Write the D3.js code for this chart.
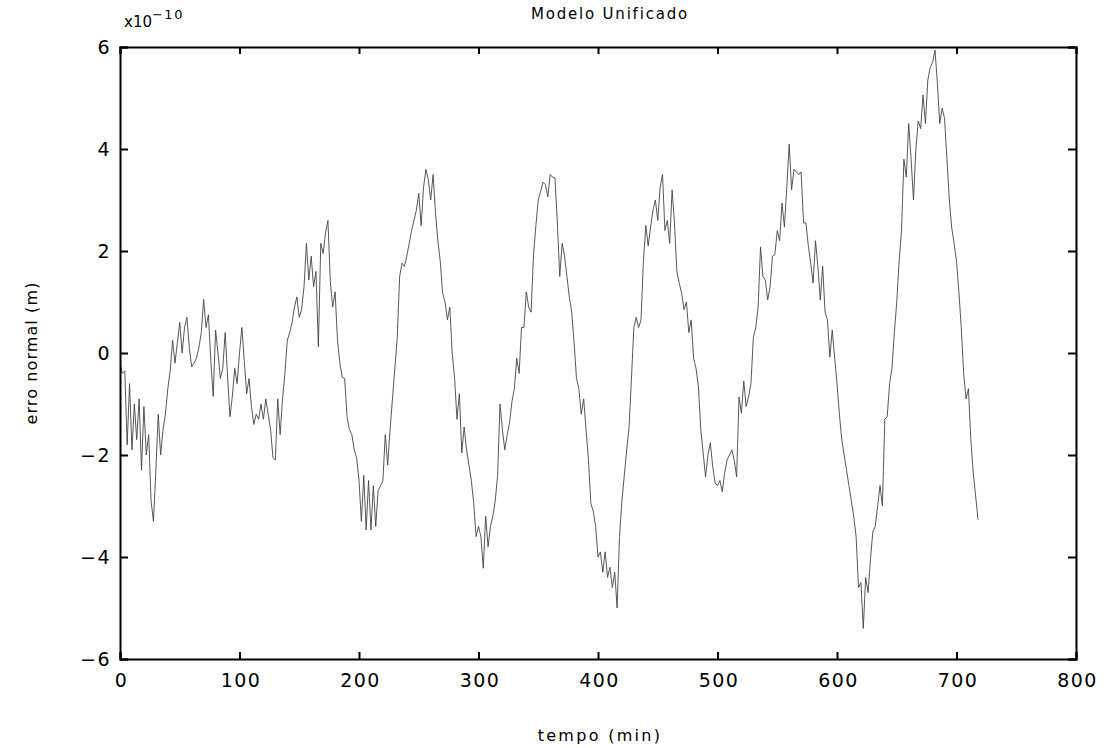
<!DOCTYPE html>
<html>
<head>
<meta charset="utf-8">
<script src="https://cdn.jsdelivr.net/npm/d3@7"></script>
<style>
  body { margin: 0; background: #fff; }
  svg { display: block; }
  text { font-family: "DejaVu Sans", sans-serif; fill: #000; }
</style>
</head>
<body>
<svg id="chart" width="1113" height="748"></svg>
<script>
// ---- data ----
const title = "Modelo Unificado";
const xLabel = "tempo (min)";
const yLabel = "erro normal (m)";
const xTicks = [0, 100, 200, 300, 400, 500, 600, 700, 800];
const yTicks = [-6, -4, -2, 0, 2, 4, 6];
const tStep = 2; // minutes between samples
// error values (x10^-10 m), one every 2 minutes from t = 0
const erro = [
  -0.2, -0.4, -0.35, -1.8, -0.6, -1.9, -1.0, -1.7, -0.9, -2.3,
  -1.05, -2.0, -1.6, -2.9, -3.3, -2.3, -1.2, -2.0, -1.5, -1.2,
  -0.7, -0.35, 0.25, -0.2, 0.2, 0.6, 0.0, 0.5, 0.7, 0.1,
  -0.27, -0.2, -0.1, 0.1, 0.4, 1.05, 0.5, 0.75, -0.15, -0.85,
  0.45, 0.0, -0.5, -0.3, 0.4, -0.45, -1.25, -0.85, -0.3, -0.6,
  0.0, 0.5, -0.15, -0.8, -0.5, -1.05, -1.4, -1.2, -1.3, -1.0,
  -1.3, -0.9, -1.2, -1.5, -2.05, -2.1, -0.9, -1.6, -0.9, -0.4,
  0.25, 0.4, 0.6, 0.9, 1.1, 0.7, 0.85, 1.3, 2.15, 1.43,
  1.9, 1.3, 1.6, 0.12, 2.15, 1.95, 2.35, 2.6, 1.4, 0.9,
  1.2, 0.25, -0.2, -0.47, -0.5, -1.25, -1.5, -1.6, -1.9, -2.05,
  -2.5, -3.3, -2.4, -3.47, -2.5, -3.47, -2.6, -3.4, -2.7, -2.6,
  -2.5, -1.6, -2.2, -1.5, -0.9, -0.3, 0.3, 1.5, 1.76, 1.7,
  1.9, 2.15, 2.4, 2.6, 2.8, 3.13, 2.5, 3.25, 3.6, 3.4,
  3.0, 3.5, 2.75, 2.2, 1.8, 1.17, 1.0, 0.65, 0.9, 0.0,
  -0.5, -1.3, -0.8, -1.96, -1.45, -1.9, -2.2, -2.5, -2.95, -3.6,
  -3.4, -3.6, -4.22, -3.2, -3.8, -3.4, -3.2, -2.9, -2.4, -1.0,
  -1.5, -1.9, -1.6, -1.37, -0.95, -0.7, -0.1, -0.4, 0.5, 0.5,
  1.2, 0.9, 0.8, 1.9, 2.5, 3.0, 3.17, 3.35, 3.3, 3.06,
  3.5, 3.45, 3.43, 2.55, 1.5, 2.15, 1.9, 1.5, 1.1, 0.8,
  0.2, -0.5, -0.7, -1.2, -0.9, -1.5, -2.1, -2.95, -3.1, -3.4,
  -4.0, -3.9, -4.3, -3.9, -4.4, -4.2, -4.6, -4.3, -5.0, -3.6,
  -2.9, -2.4, -1.9, -1.45, -0.5, 0.5, 0.7, 0.5, 0.65, 1.8,
  2.5, 2.1, 2.47, 2.8, 3.0, 2.6, 3.25, 3.5, 2.4, 2.6,
  2.15, 3.2, 2.55, 1.6, 1.37, 1.17, 0.85, 1.0, 0.4, 0.65,
  -0.1, -0.3, -0.65, -1.5, -1.96, -2.43, -2.0, -1.76, -2.23, -2.55,
  -2.6, -2.5, -2.72, -2.35, -2.1, -2.0, -1.9, -2.1, -2.43, -0.86,
  -1.18, -0.55, -1.05, -0.86, -0.6, 0.3, 0.5, 0.9, 2.08, 1.5,
  1.43, 1.04, 1.3, 1.9, 1.93, 2.4, 2.2, 2.94, 2.47, 3.25,
  4.1, 3.2, 3.6, 3.55, 3.5, 3.55, 2.55, 2.55, 2.1, 1.76,
  1.37, 2.2, 1.7, 1.04, 1.7, 0.8, 0.65, -0.08, 0.45, -0.08,
  -0.6, -1.2, -1.7, -2.0, -2.3, -2.6, -2.9, -3.2, -3.6, -4.6,
  -4.5, -5.4, -4.4, -4.7, -4.05, -3.5, -3.4, -3.0, -2.6, -3.0,
  -1.3, -1.25, -0.6, -0.3, 0.4, 1.0, 1.8, 2.4, 3.8, 3.45,
  4.5, 3.8, 3.0, 4.0, 4.55, 4.4, 5.06, 4.5, 5.35, 5.6,
  5.7, 5.94, 5.3, 4.5, 4.8, 4.6, 3.8, 3.0, 2.45, 2.15,
  1.8, 1.2, 0.5, -0.4, -0.9, -0.7, -1.7, -2.35, -2.8, -3.27
];
const tempo = erro.map((_, i) => i * tStep);

// ---- layout ----
const margin = { left: 120, right: 1113 - 1076, top: 47, bottom: 748 - 659 };
const W = 1113, H = 748;
const svg = d3.select("#chart");

const x = d3.scaleLinear().domain([0, 800]).range([margin.left, W - margin.right]);
const y = d3.scaleLinear().domain([-6, 6]).range([H - margin.bottom, margin.top]);

svg.append("defs").append("clipPath").attr("id", "clip")
  .append("rect")
  .attr("x", margin.left).attr("y", margin.top)
  .attr("width", x(800) - x(0)).attr("height", y(-6) - y(6));

// data line
const line = d3.line().x((d, i) => x(tempo[i])).y(d => y(d));
svg.append("path")
  .datum(erro)
  .attr("clip-path", "url(#clip)")
  .attr("fill", "none")
  .attr("stroke", "#444")
  .attr("stroke-width", 0.9)
  .attr("d", line);

// axes (ticks pointing inward)
const fmt = d3.format("");
const gB = svg.append("g").attr("transform", `translate(0,${y(-6)})`)
  .call(d3.axisBottom(x).tickValues(xTicks).tickFormat(fmt).tickSize(-7).tickPadding(15));
const gL = svg.append("g").attr("transform", `translate(${x(0)},0)`)
  .call(d3.axisLeft(y).tickValues(yTicks).tickFormat(fmt).tickSize(-8).tickPadding(9));
const gT = svg.append("g").attr("transform", `translate(0,${y(6)})`)
  .call(d3.axisTop(x).tickValues(xTicks).tickFormat("").tickSize(-7));
const gR = svg.append("g").attr("transform", `translate(${x(800)},0)`)
  .call(d3.axisRight(y).tickValues(yTicks).tickFormat("").tickSize(-8));

[gB, gL, gT, gR].forEach(g => {
  g.select(".domain").attr("stroke", "#000").attr("stroke-width", 2);
  g.selectAll(".tick line").attr("stroke", "#000").attr("stroke-width", 2);
  g.selectAll(".tick text").attr("font-size", 19).attr("font-family", "DejaVu Sans, sans-serif").attr("fill", "#000");
});
gB.selectAll(".tick text").attr("letter-spacing", 1.5).attr("dx", 1);
gL.selectAll(".tick text").attr("letter-spacing", 1.5);

// titles
svg.append("text")
  .attr("x", (x(0) + x(800)) / 2 + 12).attr("y", 19)
  .attr("text-anchor", "middle").attr("font-size", 15)
  .attr("letter-spacing", 1.8)
  .text(title);

svg.append("text")
  .attr("x", (x(0) + x(800)) / 2 + 2).attr("y", 741)
  .attr("text-anchor", "middle").attr("font-size", 16)
  .attr("letter-spacing", 2.3)
  .text(xLabel);

svg.append("text")
  .attr("transform", `translate(37,${(y(-6) + y(6)) / 2}) rotate(-90)`)
  .attr("text-anchor", "middle").attr("font-size", 16)
  .attr("letter-spacing", 1.1)
  .text(yLabel);

// exponent label
const ex = svg.append("text").attr("x", 124).attr("y", 27).attr("font-size", 15);
ex.append("tspan").text("x10");
ex.append("tspan").attr("dy", -8).attr("font-size", 13).attr("letter-spacing", 1.5).text("\u221210");
</script>
</body>
</html>
